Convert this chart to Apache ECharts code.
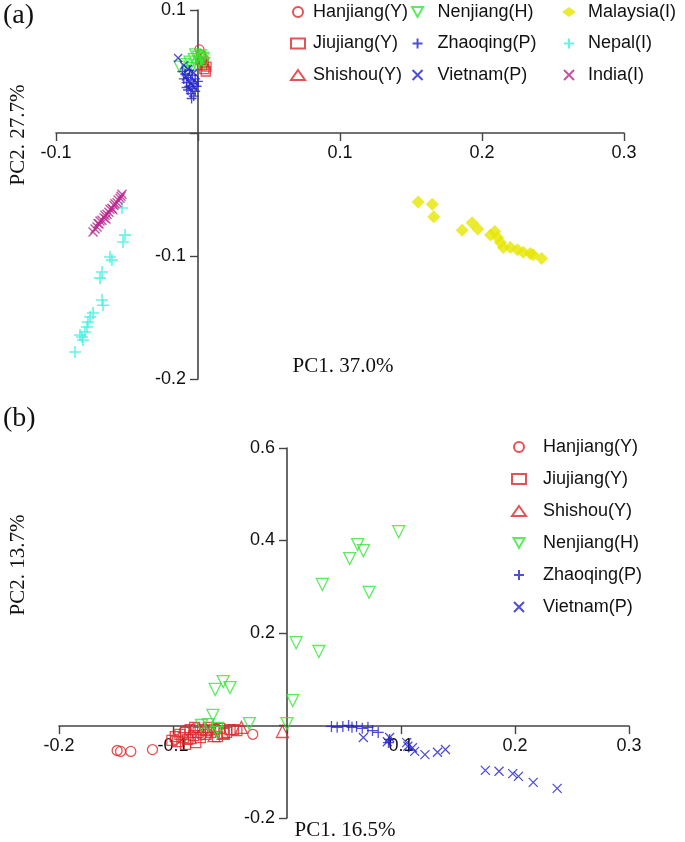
<!DOCTYPE html>
<html><head><meta charset="utf-8">
<script src="https://cdn.jsdelivr.net/npm/echarts@6/dist/echarts.min.js"></script>
<style>html,body{margin:0;padding:0;background:#fff}#c{width:685px;height:842px}</style>
</head><body><div id="c"></div>
<script>
// ---------- Panel (a) data: [PC1, PC2] ----------
const aHanjiang = [[0.0010,0.068],[0.0020,0.064],[0.0030,0.061],[0.0015,0.058],[0.0040,0.057]];
const aJiujiang = [[0.0030,0.055],[0.0045,0.052],[0.0055,0.050],[0.0040,0.058],[0.0060,0.054]];
const aShishou = [[0.0020,0.060],[0.0050,0.056]];
const aNenjiang = [[-0.0130,0.054],[-0.0095,0.056],[-0.0060,0.058],[-0.0030,0.060],[0.0000,0.062],[0.0025,0.060],[0.0045,0.057],[-0.0045,0.053],[-0.0010,0.055],[0.0010,0.058],[-0.0075,0.050],[0.0020,0.063],[-0.0020,0.064],[0.0040,0.061]];
const aZhaoqing = [[-0.0090,0.048],[-0.0070,0.045],[-0.0050,0.043],[-0.0030,0.040],[-0.0080,0.041],[-0.0060,0.038],[-0.0040,0.036],[-0.0020,0.034],[-0.0100,0.044],[-0.0050,0.032],[-0.0030,0.030],[-0.0070,0.035],[-0.0010,0.038],[0.0000,0.042],[-0.0040,0.047],[-0.0110,0.050],[-0.0060,0.051],[-0.0020,0.044],[-0.0080,0.037],[-0.0045,0.028]];
const aVietnam = [[-0.0140,0.061],[-0.0100,0.055],[-0.0070,0.052],[-0.0085,0.046],[-0.0030,0.049],[-0.0050,0.040]];
const aMalaysia = [[0.155,-0.056],[0.165,-0.058],[0.166,-0.068],[0.186,-0.079],[0.193,-0.073],[0.197,-0.078],[0.206,-0.083],[0.209,-0.080],[0.211,-0.085],[0.213,-0.089],[0.215,-0.093],[0.220,-0.093],[0.225,-0.095],[0.229,-0.097],[0.234,-0.098],[0.236,-0.099],[0.242,-0.102]];
const aNepal = [[-0.0535,-0.061],[-0.0514,-0.083],[-0.0528,-0.0886],[-0.0620,-0.1008],[-0.0606,-0.1033],[-0.0676,-0.113],[-0.0690,-0.118],[-0.0676,-0.1358],[-0.0669,-0.140],[-0.0739,-0.1463],[-0.0760,-0.1496],[-0.0775,-0.1537],[-0.0782,-0.1577],[-0.0796,-0.1618],[-0.0831,-0.1642],[-0.0817,-0.1659],[-0.0810,-0.1683],[-0.0866,-0.178]];
const aIndia = [[-0.0739,-0.0805],[-0.0725,-0.0780],[-0.0711,-0.0764],[-0.0697,-0.0740],[-0.0690,-0.0715],[-0.0676,-0.0710],[-0.0662,-0.0690],[-0.0655,-0.0668],[-0.0641,-0.0660],[-0.0627,-0.0645],[-0.0620,-0.0620],[-0.0606,-0.0612],[-0.0592,-0.0590],[-0.0585,-0.0575],[-0.0570,-0.0568],[-0.0563,-0.0545],[-0.0549,-0.0530],[-0.0542,-0.0515],[-0.0535,-0.0498],[-0.0704,-0.0735],[-0.0648,-0.0700],[-0.0599,-0.0625]];

// ---------- Panel (b) data: [PC1, PC2] ----------
const bHanjiang = [[-0.149,-0.054],[-0.146,-0.056],[-0.137,-0.056],[-0.118,-0.052],[-0.030,-0.019],[-0.090,-0.012],[-0.075,-0.020],[-0.062,-0.008],[-0.098,-0.030],[-0.080,-0.005]];
const bJiujiang = [[-0.101,-0.032],[-0.098,-0.024],[-0.096,-0.035],[-0.094,-0.019],[-0.091,-0.026],[-0.089,-0.015],[-0.087,-0.030],[-0.085,-0.009],[-0.082,-0.022],[-0.081,-0.004],[-0.078,-0.015],[-0.076,-0.026],[-0.074,-0.009],[-0.071,-0.019],[-0.069,-0.004],[-0.067,-0.015],[-0.064,-0.009],[-0.061,-0.024],[-0.059,-0.006],[-0.055,-0.017],[-0.053,-0.015],[-0.050,-0.009],[-0.047,-0.009],[-0.044,-0.011],[-0.089,-0.041],[-0.080,-0.037]];
const bShishou = [[-0.004,-0.013],[-0.071,-0.009],[-0.056,-0.017],[-0.085,-0.026],[-0.040,-0.004],[-0.064,-0.022]];
const bNenjiang = [[0.098,0.419],[0.062,0.391],[0.067,0.378],[0.055,0.361],[0.031,0.305],[0.072,0.288],[0.008,0.179],[0.028,0.160],[0.005,0.054],[-0.056,0.095],[-0.063,0.078],[-0.050,0.082],[-0.065,0.022],[0.000,0.004],[-0.033,0.004],[-0.075,0.000],[-0.061,-0.006],[-0.061,-0.015],[-0.069,0.002]];
const bZhaoqing = [[0.039,-0.002],[0.044,-0.004],[0.049,-0.002],[0.057,-0.004],[0.061,-0.002],[0.071,-0.004],[0.075,-0.011],[0.080,-0.015],[0.090,-0.030],[0.089,-0.037],[0.054,0.000],[0.066,-0.006]];
const bVietnam = [[0.067,-0.026],[0.090,-0.026],[0.088,-0.035],[0.105,-0.037],[0.106,-0.045],[0.110,-0.048],[0.112,-0.056],[0.121,-0.063],[0.132,-0.058],[0.139,-0.052],[0.174,-0.097],[0.186,-0.099],[0.198,-0.104],[0.203,-0.110],[0.216,-0.123],[0.237,-0.136]];

// axis ranges / ticks
const aX = {min:-0.1, max:0.3, interval:0.1};
const aY = {min:-0.2, max:0.1, interval:0.1};
const bX = {min:-0.2, max:0.3, interval:0.1};
const bY = {min:-0.2, max:0.6, interval:0.2};
const aTitles = ['PC1. 37.0%','PC2. 27.7%'];
const bTitles = ['PC1. 16.5%','PC2. 13.7%'];

const RED='#e0262b', GREEN='#33e633', BLUE='#2222cc', YEL='#e6e600', CYAN='#3ff0e0', MAG='#b5288f';
const PLUS='path://M0,5L10,5M5,0L5,10';
const CROSS='path://M0,0L10,10M10,0L0,10';
const DOWNTRI='path://M0,0L10,0L5,9Z';
const SANS='"Liberation Sans", Arial, sans-serif';
const SERIF='"Liberation Serif", "Times New Roman", serif';

function hollow(name, data, sym, color, size, idx, rot){
  return {type:'scatter', name, data, xAxisIndex:idx, yAxisIndex:idx, symbol:sym, symbolSize:size,
    symbolRotate:rot||0,
    itemStyle:{color:'rgba(0,0,0,0)', borderColor:color, borderWidth:1.3}};
}
function stroked(name, data, sym, color, size, idx, w){
  return {type:'scatter', name, data, xAxisIndex:idx, yAxisIndex:idx, symbol:sym, symbolSize:size,
    itemStyle:{color:'rgba(0,0,0,0)', borderColor:color, borderWidth:w}};
}
function fmt(v){ if (Math.abs(v)<1e-9) return ''; return String(Math.round(v*10)/10); }
function axis(grid, r, pos, off){
  return {type:'value', gridIndex:grid, min:r.min, max:r.max, interval:r.interval,
    position: pos==='x' ? 'bottom' : 'left', offset: off,
    splitLine:{show:false},
    axisLine:{onZero:false, lineStyle:{color:'#444', width:1.6}},
    axisTick:{length:8, lineStyle:{color:'#444', width:1.4}},
    axisLabel:{formatter:fmt, color:'#111', fontFamily:SANS, fontSize:18, margin: pos==='x'?11:12}};
}
function legendCol(names, left, top, pad, gap){
  return {data:names, orient:'vertical', left, top, padding:0, itemWidth:14, itemHeight:10, itemGap:gap,
    selectedMode:false, textStyle:{fontFamily:SANS, fontSize:18, color:'#111', lineHeight:18, padding:[0,0,0,pad]}};
}
const NEN = {name:'Nenjiang(H)', icon:DOWNTRI};

const chart = echarts.init(document.getElementById('c'), null, {renderer:'canvas'});
chart.setOption({
  animation:false,
  grid:[{left:56, width:568, top:10, height:369},{left:59, width:570, top:448, height:370}],
  xAxis:[axis(0,aX,'x',-246), axis(1,bX,'x',-92)],
  yAxis:[axis(0,aY,'y',-142), axis(1,bY,'y',-228)],
  legend:[
    legendCol(['Hanjiang(Y)','Jiujiang(Y)','Shishou(Y)'], 290, 3, 3, 13.5),
    legendCol([NEN,'Zhaoqing(P)','Vietnam(P)'], 411, 3, 8, 13.5),
    legendCol(['Malaysia(I)','Nepal(I)','India(I)'], 562, 3, 7, 13.5),
    legendCol(['Hanjiang(Y)','Jiujiang(Y)','Shishou(Y)',NEN,'Zhaoqing(P)','Vietnam(P)'], 511, 438, 12, 14)
  ],
  graphic:[
    {type:'text', left:3, top:2, style:{text:'(a)', font:'28px '+SERIF, fill:'#111'}},
    {type:'text', left:3, top:405, style:{text:'(b)', font:'28px '+SERIF, fill:'#111'}},
    {type:'text', x:343, y:366, style:{text:aTitles[0], font:'21px '+SERIF, fill:'#111', align:'center', verticalAlign:'middle'}},
    {type:'text', x:18, y:135, rotation:Math.PI/2, style:{text:aTitles[1], font:'21px '+SERIF, fill:'#111', align:'center', verticalAlign:'middle'}},
    {type:'text', x:345, y:830, style:{text:bTitles[0], font:'21px '+SERIF, fill:'#111', align:'center', verticalAlign:'middle'}},
    {type:'text', x:18, y:565, rotation:Math.PI/2, style:{text:bTitles[1], font:'21px '+SERIF, fill:'#111', align:'center', verticalAlign:'middle'}}
  ],
  series:[
    {type:'scatter', name:'Malaysia(I)', data:aMalaysia, xAxisIndex:0, yAxisIndex:0, symbol:'diamond', symbolSize:13, itemStyle:{color:YEL}},
    stroked('Nepal(I)', aNepal, PLUS, CYAN, 12, 0, 1.6),
    stroked('India(I)', aIndia, CROSS, MAG, 9, 0, 1.4),
    hollow('Hanjiang(Y)', aHanjiang, 'circle', RED, 9, 0),
    hollow('Jiujiang(Y)', aJiujiang, 'rect', RED, 9, 0),
    hollow('Shishou(Y)', aShishou, 'triangle', RED, 10, 0),
    hollow('Nenjiang(H)', aNenjiang, 'triangle', GREEN, 11, 0, 180),
    stroked('Zhaoqing(P)', aZhaoqing, PLUS, BLUE, 10, 0, 1.4),
    stroked('Vietnam(P)', aVietnam, CROSS, BLUE, 8, 0, 1.3),

    hollow('Hanjiang(Y)', bHanjiang, 'circle', RED, 10, 1),
    hollow('Jiujiang(Y)', bJiujiang, 'rect', RED, 10, 1),
    hollow('Shishou(Y)', bShishou, 'triangle', RED, 12, 1),
    hollow('Nenjiang(H)', bNenjiang, 'triangle', GREEN, 12, 1, 180),
    stroked('Zhaoqing(P)', bZhaoqing, PLUS, BLUE, 11, 1, 1.3),
    stroked('Vietnam(P)', bVietnam, CROSS, BLUE, 9, 1, 1.3)
  ]
});
</script></body></html>
